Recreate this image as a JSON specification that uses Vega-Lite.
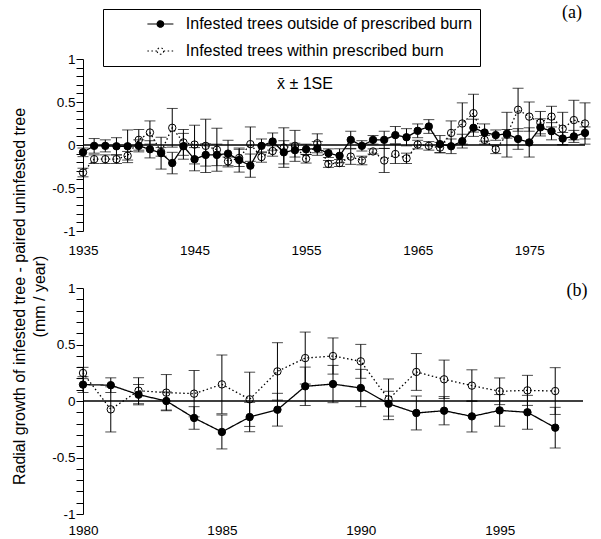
{
"$schema": "https://vega.github.io/schema/vega-lite/v6.json",
"padding": {"left": 10, "top": 3, "right": 5, "bottom": 0},
"bounds": "flush",
"spacing": 57,
"resolve": {"scale": {"fill": "independent", "strokeDash": "independent"}, "legend": {"fill": "independent", "strokeDash": "independent"}},
"config": {"view": {"stroke": null}, "font": "Liberation Sans", "text": {"color": "black"}},
"datasets": {
"a": [
{"year":1935,"s":"outside","m":-0.085,"lo":-0.135,"hi":-0.035},{"year":1935,"s":"within","m":-0.32,"lo":-0.37,"hi":-0.27},
{"year":1936,"s":"outside","m":-0.01,"lo":-0.095,"hi":0.075},{"year":1936,"s":"within","m":-0.165,"lo":-0.215,"hi":-0.115},
{"year":1937,"s":"outside","m":-0.01,"lo":-0.08,"hi":0.06},{"year":1937,"s":"within","m":-0.165,"lo":-0.215,"hi":-0.115},
{"year":1938,"s":"outside","m":-0.015,"lo":-0.115,"hi":0.085},{"year":1938,"s":"within","m":-0.165,"lo":-0.215,"hi":-0.115},
{"year":1939,"s":"outside","m":-0.015,"lo":-0.205,"hi":0.175},{"year":1939,"s":"within","m":-0.125,"lo":-0.175,"hi":-0.075},
{"year":1940,"s":"outside","m":-0.01,"lo":-0.08,"hi":0.06},{"year":1940,"s":"within","m":0.06,"lo":-0.06,"hi":0.18},
{"year":1941,"s":"outside","m":-0.05,"lo":-0.15,"hi":0.05},{"year":1941,"s":"within","m":0.145,"lo":0.01,"hi":0.28},
{"year":1942,"s":"outside","m":-0.095,"lo":-0.28,"hi":0.09},{"year":1942,"s":"within","m":-0.08,"lo":-0.13,"hi":-0.03},
{"year":1943,"s":"outside","m":-0.21,"lo":-0.335,"hi":-0.085},{"year":1943,"s":"within","m":0.2,"lo":-0.025,"hi":0.425},
{"year":1944,"s":"outside","m":-0.015,"lo":-0.165,"hi":0.135},{"year":1944,"s":"within","m":0.03,"lo":-0.12,"hi":0.18},
{"year":1945,"s":"outside","m":-0.165,"lo":-0.3,"hi":-0.03},{"year":1945,"s":"within","m":0.005,"lo":-0.22,"hi":0.23},
{"year":1946,"s":"outside","m":-0.115,"lo":-0.245,"hi":0.015},{"year":1946,"s":"within","m":-0.01,"lo":-0.32,"hi":0.3},
{"year":1947,"s":"outside","m":-0.115,"lo":-0.24,"hi":0.01},{"year":1947,"s":"within","m":-0.055,"lo":-0.305,"hi":0.195},
{"year":1948,"s":"outside","m":-0.1,"lo":-0.255,"hi":0.055},{"year":1948,"s":"within","m":-0.19,"lo":-0.24,"hi":-0.14},
{"year":1949,"s":"outside","m":-0.175,"lo":-0.315,"hi":-0.035},{"year":1949,"s":"within","m":-0.15,"lo":-0.25,"hi":-0.05},
{"year":1950,"s":"outside","m":-0.24,"lo":-0.375,"hi":-0.105},{"year":1950,"s":"within","m":0.01,"lo":-0.19,"hi":0.21},
{"year":1951,"s":"outside","m":-0.01,"lo":-0.09,"hi":0.07},{"year":1951,"s":"within","m":-0.14,"lo":-0.2,"hi":-0.08},
{"year":1952,"s":"outside","m":0.04,"lo":-0.06,"hi":0.14},{"year":1952,"s":"within","m":-0.07,"lo":-0.13,"hi":-0.01},
{"year":1953,"s":"outside","m":-0.085,"lo":-0.22,"hi":0.05},{"year":1953,"s":"within","m":-0.03,"lo":-0.26,"hi":0.2},
{"year":1954,"s":"outside","m":-0.06,"lo":-0.14,"hi":0.02},{"year":1954,"s":"within","m":-0.01,"lo":-0.19,"hi":0.17},
{"year":1955,"s":"outside","m":-0.05,"lo":-0.11,"hi":0.01},{"year":1955,"s":"within","m":-0.16,"lo":-0.21,"hi":-0.11},
{"year":1956,"s":"outside","m":-0.04,"lo":-0.12,"hi":0.04},{"year":1956,"s":"within","m":0.02,"lo":-0.09,"hi":0.13},
{"year":1957,"s":"outside","m":-0.095,"lo":-0.145,"hi":-0.045},{"year":1957,"s":"within","m":-0.22,"lo":-0.26,"hi":-0.18},
{"year":1958,"s":"outside","m":-0.125,"lo":-0.205,"hi":-0.045},{"year":1958,"s":"within","m":-0.21,"lo":-0.25,"hi":-0.17},
{"year":1959,"s":"outside","m":0.06,"lo":-0.04,"hi":0.16},{"year":1959,"s":"within","m":-0.135,"lo":-0.225,"hi":-0.045},
{"year":1960,"s":"outside","m":-0.01,"lo":-0.07,"hi":0.05},{"year":1960,"s":"within","m":-0.18,"lo":-0.23,"hi":-0.13},
{"year":1961,"s":"outside","m":0.06,"lo":0.01,"hi":0.11},{"year":1961,"s":"within","m":-0.075,"lo":-0.105,"hi":-0.045},
{"year":1962,"s":"outside","m":0.06,"lo":-0.04,"hi":0.16},{"year":1962,"s":"within","m":-0.18,"lo":-0.32,"hi":-0.04},
{"year":1963,"s":"outside","m":0.115,"lo":0.015,"hi":0.215},{"year":1963,"s":"within","m":-0.105,"lo":-0.215,"hi":0.005},
{"year":1964,"s":"outside","m":0.09,"lo":-0.01,"hi":0.19},{"year":1964,"s":"within","m":-0.155,"lo":-0.215,"hi":-0.095},
{"year":1965,"s":"outside","m":0.165,"lo":0.085,"hi":0.245},{"year":1965,"s":"within","m":0.005,"lo":-0.045,"hi":0.055},
{"year":1966,"s":"outside","m":0.215,"lo":0.135,"hi":0.295},{"year":1966,"s":"within","m":-0.01,"lo":-0.06,"hi":0.04},
{"year":1967,"s":"outside","m":0.01,"lo":-0.09,"hi":0.11},{"year":1967,"s":"within","m":-0.03,"lo":-0.09,"hi":0.03},
{"year":1968,"s":"outside","m":-0.015,"lo":-0.1,"hi":0.07},{"year":1968,"s":"within","m":0.14,"lo":0.0,"hi":0.28},
{"year":1969,"s":"outside","m":0.045,"lo":-0.035,"hi":0.125},{"year":1969,"s":"within","m":0.25,"lo":0.01,"hi":0.49},
{"year":1970,"s":"outside","m":0.2,"lo":0.1,"hi":0.3},{"year":1970,"s":"within","m":0.37,"lo":0.15,"hi":0.59},
{"year":1971,"s":"outside","m":0.145,"lo":0.045,"hi":0.245},{"year":1971,"s":"within","m":0.06,"lo":0.01,"hi":0.11},
{"year":1972,"s":"outside","m":0.115,"lo":0.055,"hi":0.175},{"year":1972,"s":"within","m":-0.05,"lo":-0.1,"hi":0.0},
{"year":1973,"s":"outside","m":0.13,"lo":0.08,"hi":0.18},{"year":1973,"s":"within","m":0.12,"lo":-0.14,"hi":0.38},
{"year":1974,"s":"outside","m":0.07,"lo":-0.05,"hi":0.19},{"year":1974,"s":"within","m":0.41,"lo":0.16,"hi":0.66},
{"year":1975,"s":"outside","m":0.03,"lo":-0.14,"hi":0.2},{"year":1975,"s":"within","m":0.33,"lo":0.16,"hi":0.5},
{"year":1976,"s":"outside","m":0.205,"lo":0.105,"hi":0.305},{"year":1976,"s":"within","m":0.26,"lo":0.13,"hi":0.39},
{"year":1977,"s":"outside","m":0.16,"lo":0.06,"hi":0.26},{"year":1977,"s":"within","m":0.33,"lo":0.21,"hi":0.45},
{"year":1978,"s":"outside","m":0.075,"lo":0.005,"hi":0.145},{"year":1978,"s":"within","m":0.19,"lo":0.0,"hi":0.38},
{"year":1979,"s":"outside","m":0.1,"lo":0.03,"hi":0.17},{"year":1979,"s":"within","m":0.29,"lo":0.06,"hi":0.52},
{"year":1980,"s":"outside","m":0.14,"lo":0.07,"hi":0.21},{"year":1980,"s":"within","m":0.25,"lo":0.01,"hi":0.49}
],
"b": [
{"year":1980,"s":"outside","m":0.145,"lo":0.075,"hi":0.215},{"year":1980,"s":"within","m":0.248,"lo":0.198,"hi":0.298},
{"year":1981,"s":"outside","m":0.14,"lo":0.075,"hi":0.205},{"year":1981,"s":"within","m":-0.074,"lo":-0.274,"hi":0.126},
{"year":1982,"s":"outside","m":0.056,"lo":-0.034,"hi":0.146},{"year":1982,"s":"within","m":0.091,"lo":-0.024,"hi":0.206},
{"year":1983,"s":"outside","m":0.0,"lo":-0.08,"hi":0.08},{"year":1983,"s":"within","m":0.074,"lo":-0.086,"hi":0.234},
{"year":1984,"s":"outside","m":-0.15,"lo":-0.25,"hi":-0.05},{"year":1984,"s":"within","m":0.065,"lo":-0.14,"hi":0.27},
{"year":1985,"s":"outside","m":-0.274,"lo":-0.424,"hi":-0.124},{"year":1985,"s":"within","m":0.147,"lo":-0.113,"hi":0.407},
{"year":1986,"s":"outside","m":-0.142,"lo":-0.272,"hi":-0.012},{"year":1986,"s":"within","m":0.015,"lo":-0.225,"hi":0.255},
{"year":1987,"s":"outside","m":-0.077,"lo":-0.222,"hi":0.068},{"year":1987,"s":"within","m":0.262,"lo":0.008,"hi":0.516},
{"year":1988,"s":"outside","m":0.13,"lo":-0.04,"hi":0.3},{"year":1988,"s":"within","m":0.38,"lo":0.15,"hi":0.61},
{"year":1989,"s":"outside","m":0.15,"lo":-0.015,"hi":0.315},{"year":1989,"s":"within","m":0.398,"lo":0.238,"hi":0.558},
{"year":1990,"s":"outside","m":0.115,"lo":-0.05,"hi":0.28},{"year":1990,"s":"within","m":0.351,"lo":0.201,"hi":0.501},
{"year":1991,"s":"outside","m":-0.024,"lo":-0.134,"hi":0.086},{"year":1991,"s":"within","m":0.015,"lo":-0.165,"hi":0.195},
{"year":1992,"s":"outside","m":-0.106,"lo":-0.256,"hi":0.044},{"year":1992,"s":"within","m":0.257,"lo":0.094,"hi":0.42},
{"year":1993,"s":"outside","m":-0.086,"lo":-0.211,"hi":0.039},{"year":1993,"s":"within","m":0.192,"lo":0.022,"hi":0.362},
{"year":1994,"s":"outside","m":-0.136,"lo":-0.274,"hi":0.002},{"year":1994,"s":"within","m":0.136,"lo":-0.004,"hi":0.276},
{"year":1995,"s":"outside","m":-0.083,"lo":-0.223,"hi":0.057},{"year":1995,"s":"within","m":0.086,"lo":-0.032,"hi":0.204},
{"year":1996,"s":"outside","m":-0.1,"lo":-0.25,"hi":0.05},{"year":1996,"s":"within","m":0.094,"lo":-0.039,"hi":0.227},
{"year":1997,"s":"outside","m":-0.236,"lo":-0.416,"hi":-0.056},{"year":1997,"s":"within","m":0.088,"lo":-0.119,"hi":0.295}
]
},
"vconcat": [
{
"width": 502, "height": 172,
"data": {"name": "a"},
"encoding": {
  "x": {"field": "year", "type": "quantitative", "scale": {"domain": [1935, 1980], "nice": false, "zero": false},
        "axis": {"values": [1935, 1945, 1955, 1965, 1975], "format": "d", "title": null, "ticks": false, "domain": false, "grid": false, "labelPadding": 12, "labelFlush": false, "labelFontSize": 13.5, "labelColor": "black", "labelFont": "Liberation Sans"}},
  "y": {"field": "m", "type": "quantitative", "scale": {"domain": [-1, 1], "nice": false, "zero": false},
        "axis": {"values": [-1,-0.9,-0.8,-0.7,-0.6,-0.5,-0.4,-0.3,-0.2,-0.1,0,0.1,0.2,0.3,0.4,0.5,0.6,0.7,0.8,0.9,1],
                 "labelExpr": "abs(datum.value*2-round(datum.value*2))<0.001 ? ''+datum.value : ''", "title": null,
                 "tickSize": 7, "labelPadding": 1, "grid": false, "domainColor": "black", "tickColor": "black", "labelColor": "black",
                 "labelFontSize": 13.5, "labelFont": "Liberation Sans", "labelOverlap": false, "labelBound": false, "labelFlush": false,
                 "encode": {"ticks": {"update": {"x2": {"signal": "abs(datum.value*2-round(datum.value*2))<0.001 ? -7 : -4"}}}}}}
},
"layer": [
  {"mark": {"type": "rule", "color": "black", "strokeWidth": 1}, "encoding": {"y": {"field": "lo"}, "y2": {"field": "hi"}}},
  {"mark": {"type": "tick", "orient": "horizontal", "color": "black", "size": 11, "thickness": 1}, "encoding": {"y": {"field": "lo"}}},
  {"mark": {"type": "tick", "orient": "horizontal", "color": "black", "size": 11, "thickness": 1}, "encoding": {"y": {"field": "hi"}}},
  {"transform": [{"filter": "datum.year == 1935 && datum.s == 'outside'"}],
   "mark": {"type": "rule", "color": "black", "strokeWidth": 1.5},
   "encoding": {"x": {"datum": 1935}, "x2": {"datum": 1980}, "y": {"datum": 0}}},
  {"mark": {"type": "line", "color": "black", "strokeWidth": 1.3},
   "encoding": {
     "strokeDash": {"field": "s", "type": "nominal", "scale": {"domain": ["outside", "within"], "range": [[1, 0], [1.5, 2.5]]},
       "legend": {"orient": "none", "legendX": 20, "legendY": -50, "title": null,
         "symbolType": "M-1,0L-0.25,0M0.25,0L1,0M0.25,0A0.25,0.25 0 1,1 -0.25,0A0.25,0.25 0 1,1 0.25,0Z",
         "symbolSize": 676, "symbolStrokeColor": "black", "symbolStrokeWidth": 1.2, "symbolFillColor": "black",
         "symbolOffset": 36.4, "labelOffset": 11.4, "clipHeight": 16, "rowPadding": 11,
         "padding": 7, "strokeColor": "black", "labelFontSize": 16, "labelFont": "Liberation Sans", "labelColor": "black", "labelLimit": 600,
         "labelExpr": "(datum.value == 'outside' ? 'Infested trees outside of prescribed burn' : 'Infested trees within prescribed burn') + '\u00a0\u00a0\u00a0\u00a0\u00a0\u00a0\u00a0\u00a0\u00a0\u00a0\u00a0\u00a0'",
         "encode": {"symbols": {"update": {"fill": {"signal": "datum.value == 'outside' ? 'black' : 'white'"}, "stroke": {"value": "black"}}}}}}}},
  {"mark": {"type": "point", "shape": "circle", "size": 55, "stroke": "black", "strokeWidth": 1, "opacity": 1},
   "encoding": {
     "order": {"field": "s", "sort": "descending"},
     "fill": {"field": "s", "type": "nominal", "scale": {"domain": ["outside", "within"], "range": ["black", "transparent"]}, "legend": null}}},
  {"transform": [{"filter": "datum.year == 1935 && datum.s == 'outside'"}],
   "mark": {"type": "text", "fontSize": 16, "font": "Liberation Sans", "baseline": "middle", "color": "black"},
   "encoding": {"x": {"datum": 1954.9}, "y": {"datum": 0.709}, "text": {"value": "x̄ ± 1SE"}}},
  {"transform": [{"filter": "datum.year == 1935 && datum.s == 'outside'"}],
   "mark": {"type": "text", "fontSize": 18, "font": "Liberation Serif", "baseline": "middle", "color": "black"},
   "encoding": {"x": {"datum": 1978.83}, "y": {"datum": 1.535}, "text": {"value": "(a)"}}}
]
},
{
"width": 500, "height": 226,
"data": {"name": "b"},
"encoding": {
  "x": {"field": "year", "type": "quantitative", "scale": {"domain": [1980, 1998], "nice": false, "zero": false},
        "axis": {"values": [1980, 1985, 1990, 1995], "format": "d", "title": null, "ticks": false, "domain": false, "grid": false, "labelPadding": 9, "labelFlush": false, "labelFontSize": 13.5, "labelColor": "black", "labelFont": "Liberation Sans"}},
  "y": {"field": "m", "type": "quantitative", "scale": {"domain": [-1, 1], "nice": false, "zero": false},
        "axis": {"values": [-1,-0.9,-0.8,-0.7,-0.6,-0.5,-0.4,-0.3,-0.2,-0.1,0,0.1,0.2,0.3,0.4,0.5,0.6,0.7,0.8,0.9,1],
                 "labelExpr": "abs(datum.value*2-round(datum.value*2))<0.001 ? ''+datum.value : ''",
                 "tickSize": 7, "labelPadding": 1, "grid": false, "domainColor": "black", "tickColor": "black", "labelColor": "black",
                 "labelFontSize": 13.5, "labelFont": "Liberation Sans", "labelOverlap": false, "labelBound": false, "labelFlush": false,
                 "title": ["Radial growth of infested tree - paired uninfested tree", "(mm / year)"],
                 "titleFontSize": 16, "titleFontWeight": "normal", "titleFont": "Liberation Sans", "titleColor": "black",
                 "titleX": -59, "titleY": 8, "titleAngle": -90, "titleAlign": "center", "titleBaseline": "alphabetic", "titleLineHeight": 20,
                 "encode": {"ticks": {"update": {"x2": {"signal": "abs(datum.value*2-round(datum.value*2))<0.001 ? -7 : -4"}}}}}}
},
"layer": [
  {"mark": {"type": "rule", "color": "black", "strokeWidth": 1}, "encoding": {"y": {"field": "lo"}, "y2": {"field": "hi"}}},
  {"mark": {"type": "tick", "orient": "horizontal", "color": "black", "size": 11, "thickness": 1}, "encoding": {"y": {"field": "lo"}}},
  {"mark": {"type": "tick", "orient": "horizontal", "color": "black", "size": 11, "thickness": 1}, "encoding": {"y": {"field": "hi"}}},
  {"transform": [{"filter": "datum.year == 1980 && datum.s == 'outside'"}],
   "mark": {"type": "rule", "color": "black", "strokeWidth": 1.5},
   "encoding": {"x": {"datum": 1980}, "x2": {"datum": 1998}, "y": {"datum": 0}}},
  {"mark": {"type": "line", "color": "black", "strokeWidth": 1.3},
   "encoding": {"strokeDash": {"field": "s", "type": "nominal", "scale": {"domain": ["outside", "within"], "range": [[1, 0], [1.5, 2.5]]}, "legend": null}}},
  {"mark": {"type": "point", "shape": "circle", "size": 55, "stroke": "black", "strokeWidth": 1, "opacity": 1},
   "encoding": {
     "order": {"field": "s", "sort": "descending"},
     "fill": {"field": "s", "type": "nominal", "scale": {"domain": ["outside", "within"], "range": ["black", "transparent"]}, "legend": null}}},
  {"transform": [{"filter": "datum.year == 1980 && datum.s == 'outside'"}],
   "mark": {"type": "text", "fontSize": 18, "font": "Liberation Serif", "baseline": "middle", "color": "black"},
   "encoding": {"x": {"datum": 1997.78}, "y": {"datum": 0.973}, "text": {"value": "(b)"}}}
]
}
]
}
